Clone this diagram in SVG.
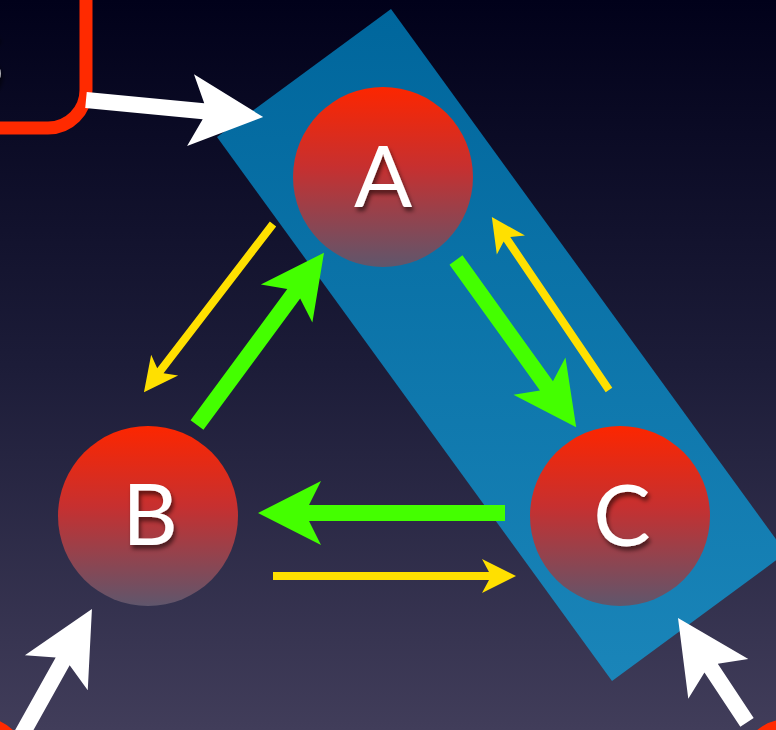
<svg xmlns="http://www.w3.org/2000/svg" width="776" height="730" viewBox="0 0 776 730">
  <defs>
    <linearGradient id="bg" x1="0" y1="0" x2="0" y2="730" gradientUnits="userSpaceOnUse">
      <stop offset="0" stop-color="#01011a"/>
      <stop offset="0.5" stop-color="#1c1c38"/>
      <stop offset="1" stop-color="#413d5a"/>
    </linearGradient>
    <linearGradient id="blue" x1="0" y1="9" x2="0" y2="681" gradientUnits="userSpaceOnUse">
      <stop offset="0" stop-color="#00669c"/>
      <stop offset="1" stop-color="#1a85b9"/>
    </linearGradient>
    <linearGradient id="ball" x1="0" y1="0" x2="0" y2="1">
      <stop offset="0" stop-color="#fc2600"/>
      <stop offset="0.45" stop-color="#c63030"/>
      <stop offset="1" stop-color="#5f566c"/>
    </linearGradient>
    <filter id="shadow" x="-30%" y="-30%" width="160%" height="160%">
      <feDropShadow dx="2" dy="4" stdDeviation="2" flood-color="#000" flood-opacity="0.55"/>
    </filter>
    <style>
      .lbl { font-family: Lato, "Liberation Sans", sans-serif; font-size: 86px; fill: #ffffff; text-anchor: middle; }
      .box { fill: none; stroke: #ff2a00; stroke-width: 13; }
      .white { fill: #ffffff; }
      .green { fill: #44ff00; }
      .yellow { fill: #ffe000; }
      .ball { fill: url(#ball); }
    </style>
  </defs>

  <rect x="0" y="0" width="776" height="730" fill="url(#bg)"/>

  <g id="cluster">
    <polygon points="391,9 786,553 612,681 217,137" fill="url(#blue)"/>
  </g>

  <g id="node-S">
    <rect class="box" x="-120" y="-100" width="206" height="228" rx="38"/>
    <text class="lbl" x="-19" y="92" filter="url(#shadow)">S</text>
  </g>
  <g id="node-bl">
    <rect class="box" x="-200" y="724" width="220" height="120" rx="38"/>
  </g>
  <g id="node-br">
    <rect class="box" x="748" y="726" width="220" height="120" rx="38"/>
  </g>

  <g id="connectors">
    <path class="white" transform="translate(86,100) rotate(5.5)" d="M0,-8 L118,-8 L105,-36 L178,0 L105,36 L118,8 L0,8Z"/>
    <path class="white" transform="translate(21.2,735.6) rotate(-60.8)" d="M0,-8 L85,-8 L72,-36 L145,0 L72,36 L85,8 L0,8Z"/>
    <path class="white" transform="translate(747,722.3) rotate(-123.5)" d="M0,-8 L65,-8 L52,-36 L125,0 L52,36 L65,8 L0,8Z"/>

    <path class="green" transform="translate(197,425) rotate(-53.6)" d="M0,-8 L163,-8 L151,-32 L214,0 L151,32 L163,8 L0,8Z"/>
    <path class="green" transform="translate(456,260) rotate(54.3)" d="M0,-8 L155,-8 L143,-32 L206,0 L143,32 L155,8 L0,8Z"/>
    <path class="green" transform="translate(505,513) rotate(180)" d="M0,-8 L196,-8 L184,-32 L247,0 L184,32 L196,8 L0,8Z"/>

    <path class="yellow" transform="translate(273,224) rotate(127.5)" d="M0,-4 L185,-4 L178,-17 L212,0 L178,17 L185,4 L0,4Z"/>
    <path class="yellow" transform="translate(609,390) rotate(-124.1)" d="M0,-4 L182,-4 L175,-17 L209,0 L175,17 L182,4 L0,4Z"/>
    <path class="yellow" transform="translate(273,576)" d="M0,-4 L216,-4 L209,-17 L243,0 L209,17 L216,4 L0,4Z"/>
  </g>

  <g id="node-A">
    <circle class="ball" cx="383" cy="177" r="90"/>
    <text class="lbl" x="383" y="207" filter="url(#shadow)">A</text>
  </g>
  <g id="node-B">
    <circle class="ball" cx="148" cy="516" r="90"/>
    <text class="lbl" x="150" y="545" filter="url(#shadow)">B</text>
  </g>
  <g id="node-C">
    <circle class="ball" cx="620" cy="516" r="90"/>
    <text class="lbl" x="622" y="546" filter="url(#shadow)">C</text>
  </g>
</svg>
